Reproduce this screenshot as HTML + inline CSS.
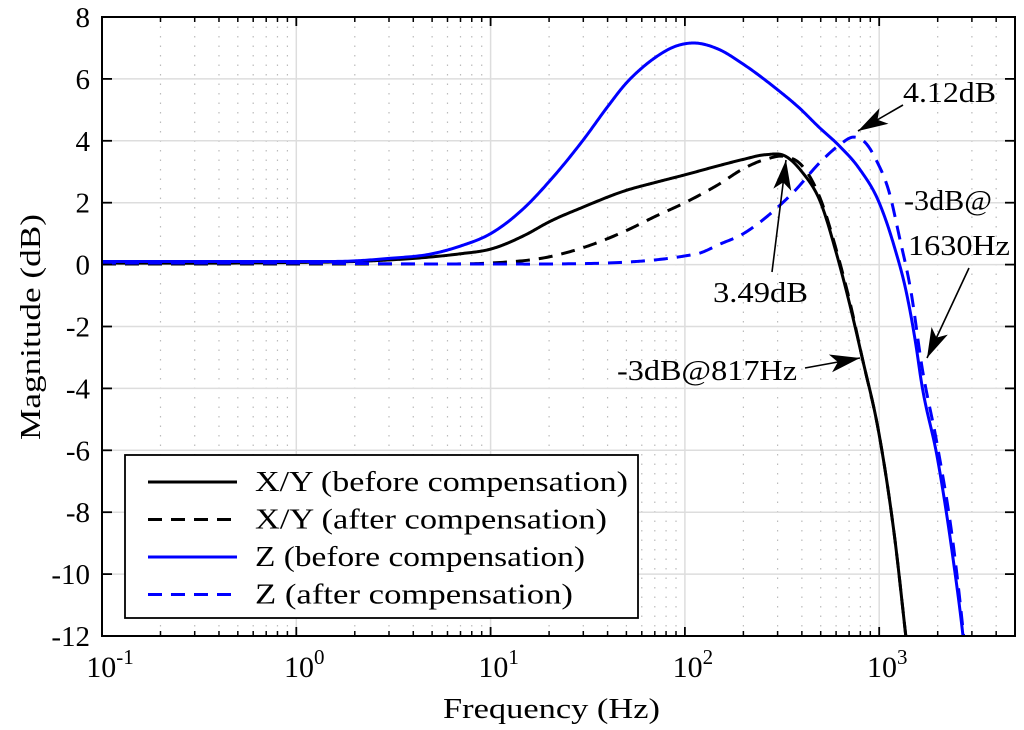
<!DOCTYPE html>
<html><head><meta charset="utf-8"><style>
html,body{margin:0;padding:0;background:#fff;overflow:hidden;width:1024px;height:730px;}
svg{display:block;font-family:"Liberation Serif","DejaVu Serif",serif;}
</style></head><body>
<svg id="chart" width="1024" height="730">
<defs><clipPath id="clip"><rect x="102" y="17" width="913" height="619"/></clipPath></defs>
<rect width="1024" height="730" fill="#fff"/>
<g id="grid"></g>
<g id="series" clip-path="url(#clip)"></g>
<g id="axes"></g>
<g id="annot"></g>
<g id="legend"></g>
</svg>
<script>
const freqs = [0.1,0.5,1,2,3,5,7,10,15,20,30,50,70,100,150,200,260,330,400,500,600,700,817,1000,1200,1400,1800];
const xyBefore = [0.05,0.05,0.07,0.1,0.15,0.25,0.35,0.5,0.95,1.38,1.86,2.4,2.65,2.9,3.2,3.4,3.55,3.5,3.0,2.0,0.4,-1.2,-3,-5.5,-8.8,-12.5,-18];
const xyAfterF = [0.1,1,3,5,10,20,30,50,70,100,150,200,260,330,400,500,600,700,817,1000,1200,1400,1800];
const xyAfter = [0.02,0.02,0.02,0.02,0.05,0.25,0.55,1.1,1.55,2.0,2.6,3.1,3.4,3.49,3.2,2.1,0.5,-1.1,-3,-5.5,-8.8,-12.5,-18];
const zBeforeF = [0.1,0.5,1,2,3,5,7,10,15,20,30,40,50,60,70,90,110,150,196,293,390,488,620,790,1000,1200,1380,1550,1640,2000,2400,2700,3200];
const zBefore = [0.1,0.1,0.1,0.12,0.2,0.35,0.6,1.0,1.85,2.68,4.03,5.1,5.87,6.35,6.68,7.06,7.16,6.95,6.51,5.7,5.05,4.45,3.85,3.1,2.0,0.55,-0.9,-2.65,-3.7,-6.3,-9.5,-12,-17];
const zAfterF = [0.1,1,5,10,20,50,70,100,119,150,200,241,300,357,510,620,744,860,965,1130,1270,1460,1660,2000,2400,2700,3200];
const zAfter = [0.05,0.05,0.02,0.02,0.02,0.08,0.15,0.28,0.37,0.65,1.0,1.35,1.85,2.3,3.38,3.85,4.12,3.9,3.38,2.3,0.9,-0.9,-3.3,-5.9,-9,-11.8,-17];
const yTicks = [8,6,4,2,0,-2,-4,-6,-8,-10,-12];
const xDecades = [-1,0,1,2,3];

const X0=102,X1=1015,Y0=17,Y1=636,LMIN=-1,LMAX=Math.log10(5000),VMIN=-12,VMAX=8;
function xs(f){return X0+(Math.log10(f)-LMIN)/(LMAX-LMIN)*(X1-X0);}
function ys(v){return Y1-(v-VMIN)/(VMAX-VMIN)*(Y1-Y0);}
const NS="http://www.w3.org/2000/svg";
function mk(tag,attrs,parent){const e=document.createElementNS(NS,tag);for(const k in attrs)e.setAttribute(k,attrs[k]);parent.appendChild(e);return e;}
const grid=document.getElementById('grid'),axes=document.getElementById('axes'),series=document.getElementById('series');

for(const d of xDecades){for(let m=2;m<=9;m++){const f=m*Math.pow(10,d);if(f>5000)break;const x=xs(f);
 const g=mk('line',{x1:x,x2:x,y1:Y0,y2:Y1,stroke:'#bbb','stroke-width':1.2,'stroke-dasharray':'1.5 8'},grid);
 
 
 mk('line',{x1:x,x2:x,y1:Y1,y2:Y1-5,stroke:'#000','stroke-width':1.5},axes);
 mk('line',{x1:x,x2:x,y1:Y0,y2:Y0+5,stroke:'#000','stroke-width':1.5},axes);}}
for(const d of xDecades){const x=xs(Math.pow(10,d));
 if(d>-1){const g=mk('line',{x1:x,x2:x,y1:Y0,y2:Y1,stroke:'#ddd','stroke-width':1.5},grid);
 
 }
 mk('line',{x1:x,x2:x,y1:Y1,y2:Y1-9,stroke:'#000','stroke-width':1.8},axes);
 mk('line',{x1:x,x2:x,y1:Y0,y2:Y0+9,stroke:'#000','stroke-width':1.8},axes);
 const t=mk('text',{x:x+8,y:677,'font-size':30,'text-anchor':'middle'},axes);
 
 
 t.innerHTML='10<tspan dy="-13" font-size="21">'+d+'</tspan>';}
for(const v of yTicks){const y=ys(v);
 if(v>VMIN&&v<VMAX){const g=mk('line',{x1:X0,x2:X1,y1:y,y2:y,stroke:'#ddd','stroke-width':1.5},grid);
 
 }
 mk('line',{x1:X0,x2:X0+10,y1:y,y2:y,stroke:'#000','stroke-width':1.8},axes);
 mk('line',{x1:X1,x2:X1-10,y1:y,y2:y,stroke:'#000','stroke-width':1.8},axes);
 const t=mk('text',{x:90,y:y+10,'font-size':29,'text-anchor':'end'},axes);
 
 
 t.textContent=v;}
const box=mk('rect',{x:X0,y:Y0,width:X1-X0,height:Y1-Y0,fill:'none',stroke:'#000','stroke-width':2},axes);


const xt=mk('text',{x:443,y:718,'font-size':29,textLength:217,lengthAdjust:'spacingAndGlyphs'},axes);


xt.textContent='Frequency  (Hz)';
const yt=mk('text',{x:0,y:0,'font-size':29,textLength:226,lengthAdjust:'spacingAndGlyphs',transform:'translate(40 440) rotate(-90)'},axes);


yt.textContent='Magnitude (dB)';

function path(fs,vs){const l=fs.map(f=>Math.log10(f)),n=l.length;
 const m=l.map((_,i)=>{if(i===0)return (vs[1]-vs[0])/(l[1]-l[0]);if(i===n-1)return (vs[n-1]-vs[n-2])/(l[n-1]-l[n-2]);
  const a=(vs[i]-vs[i-1])/(l[i]-l[i-1]),b=(vs[i+1]-vs[i])/(l[i+1]-l[i]);
  const wa=l[i+1]-l[i],wb=l[i]-l[i-1];return (a*wa+b*wb)/(wa+wb);});
 let d='';
 for(let i=0;i<n-1;i++){const h=l[i+1]-l[i];for(let k=0;k<=24;k++){if(i>0&&k===0)continue;const t=k/24;
  const h00=2*t*t*t-3*t*t+1,h10=t*t*t-2*t*t+t,h01=-2*t*t*t+3*t*t,h11=t*t*t-t*t;
  const v=h00*vs[i]+h10*h*m[i]+h01*vs[i+1]+h11*h*m[i+1];const lf=l[i]+t*h;
  d+=(d?' L':'M')+xs(Math.pow(10,lf)).toFixed(2)+','+ys(v).toFixed(2);}}
 return d;}
const defs=[[freqs,xyBefore,'#000','','xy-before-line'],[xyAfterF,xyAfter,'#000','14 9','xy-after-line'],[zBeforeF,zBefore,'#0000ff','','z-before-line'],[zAfterF,zAfter,'#0000ff','14 9','z-after-line']];
for(const s of defs){const e=mk('path',{d:path(s[0],s[1]),fill:'none',stroke:s[2],'stroke-width':3,'stroke-dasharray':s[3]},series);
 
 }

const an=document.getElementById('annot'),lg=document.getElementById('legend');
function arrow(x1,y1,x2,y2,name){const g=mk('g',{},an);
 
 
 mk('line',{x1:x1,y1:y1,x2:x2,y2:y2,stroke:'#000','stroke-width':1.6},g);
 const a=Math.atan2(y2-y1,x2-x1),L=30,W=9;const bx=x2-L*Math.cos(a),by=y2-L*Math.sin(a),nx=-Math.sin(a),ny=Math.cos(a);
 const mx=x2-L*0.75*Math.cos(a),my=y2-L*0.75*Math.sin(a);
 mk('path',{d:`M${x2},${y2} L${bx+nx*W},${by+ny*W} L${mx},${my} L${bx-nx*W},${by-ny*W}Z`,fill:'#000'},g);}
function txt(x,y,s,w,name){const t=mk('text',{x:x,y:y,'font-size':29,textLength:w,lengthAdjust:'spacingAndGlyphs'},an);
 
 
 t.textContent=s;}
arrow(903,105,858,131,'peak-z-arrow');txt(903,102,'4.12dB',93,'peak-z-label');
arrow(772,272,786,160,'peak-xy-arrow');txt(713,302,'3.49dB',95,'peak-xy-label');
arrow(969,268,927,358,'cutoff-z-arrow');txt(904,210,'-3dB@',88,'cutoff-z-label-1');txt(908,255,'1630Hz',102,'cutoff-z-label-2');
arrow(805,368,860,358,'cutoff-xy-arrow');txt(617,380,'-3dB@817Hz',180,'cutoff-xy-label');
const r=mk('rect',{x:125,y:455,width:513,height:163,fill:'#fff',stroke:'#000','stroke-width':1.8},lg);


const items=[['X/Y (before compensation)','#000','',373],['X/Y (after compensation)','#000','14 9',352],['Z (before compensation)','#0000ff','',330],['Z (after compensation)','#0000ff','14 9',318]];
items.forEach((it,i)=>{const y=482+i*37.5;const g=mk('g',{},lg);
 
 
 mk('line',{x1:148,x2:237,y1:y,y2:y,stroke:it[1],'stroke-width':3,'stroke-dasharray':it[2]},g);
 const t=mk('text',{x:255,y:y+9,'font-size':28,textLength:it[3],lengthAdjust:'spacingAndGlyphs'},g);t.textContent=it[0];});
</script>
</body></html>
